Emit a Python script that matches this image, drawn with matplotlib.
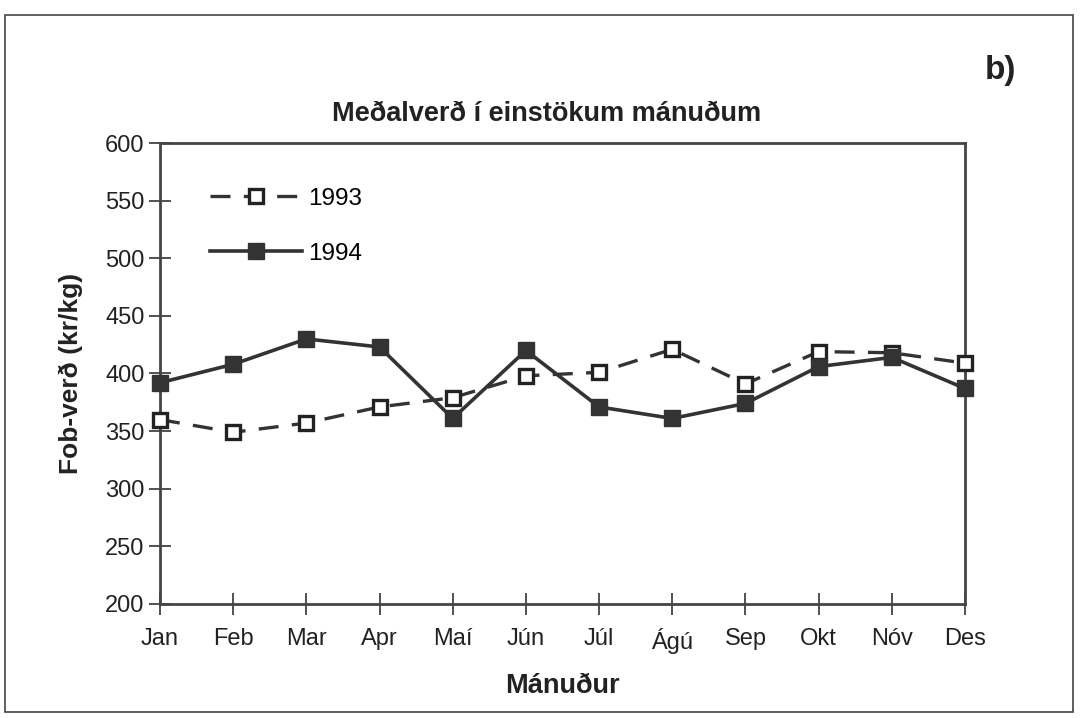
import matplotlib.pyplot as plt
from matplotlib.patches import Rectangle

plt.rcParams['font.family'] = ['Liberation Sans', 'DejaVu Sans']

months = ['Jan', 'Feb', 'Mar', 'Apr', 'Maí', 'Jún', 'Júl', 'Ágú', 'Sep', 'Okt', 'Nóv', 'Des']
price_1993 = [360, 349, 357, 371, 379, 398, 401, 421, 391, 419, 418, 409]
price_1994 = [392, 408, 430, 423, 361, 420, 371, 361, 374, 406, 414, 387]

fig = plt.figure(figsize=(10.8, 7.18), dpi=100)
ax = fig.add_axes([160/1080, 1 - 604/718, 805/1080, 461/718])

x = range(len(months))
ax.plot(x, price_1993, color='#333333', lw=2.4, ls=(0, (6, 4)), clip_on=False,
        marker='s', ms=10, mfc='white', mec='#222222', mew=2.4, label='1993', zorder=3)
ax.plot(x, price_1994, color='#333333', lw=2.6, clip_on=False,
        marker='s', ms=11.5, mfc='#333333', mec='#333333', label='1994', zorder=4)

ax.set_xlim(0, len(months) - 1)
ax.set_ylim(200, 600)
ax.set_yticks(range(200, 601, 50))
ax.set_xticks(list(x))
ax.set_xticklabels(months)
ax.tick_params(axis='both', labelsize=17, direction='inout', width=1.2,
               colors='#333333', labelcolor='#222222')
ax.tick_params(axis='y', length=16, pad=3)
ax.tick_params(axis='x', length=16, pad=9)
for s in ax.spines.values():
    s.set_color('#444444')
    s.set_linewidth(2)

ax.set_title('Meðalverð í einstökum mánuðum', fontsize=19.5, fontweight='bold',
             color='#222222', pad=16, x=0.48)
ax.set_xlabel('Mánuður', fontsize=19.5, fontweight='bold', color='#222222', labelpad=14)
ax.set_ylabel('Fob-verð (kr/kg)', fontsize=19, fontweight='bold', color='#222222',
              labelpad=16)

ax.legend(loc='upper left', bbox_to_anchor=(0.05, 0.924), frameon=False, fontsize=17.5,
          handlelength=3.8, labelspacing=1.35, handletextpad=0.25, borderaxespad=0)

fig.text(1000/1080, 1 - 70/718, 'b)', fontsize=24, fontweight='bold', color='#222222',
         ha='center', va='center')

fig.patches.append(Rectangle((5/1080, 6/718), 1068/1080, 697/718, transform=fig.transFigure,
                             fill=False, edgecolor='#444444', lw=1.2))

fig.savefig('out.png', dpi=100)
